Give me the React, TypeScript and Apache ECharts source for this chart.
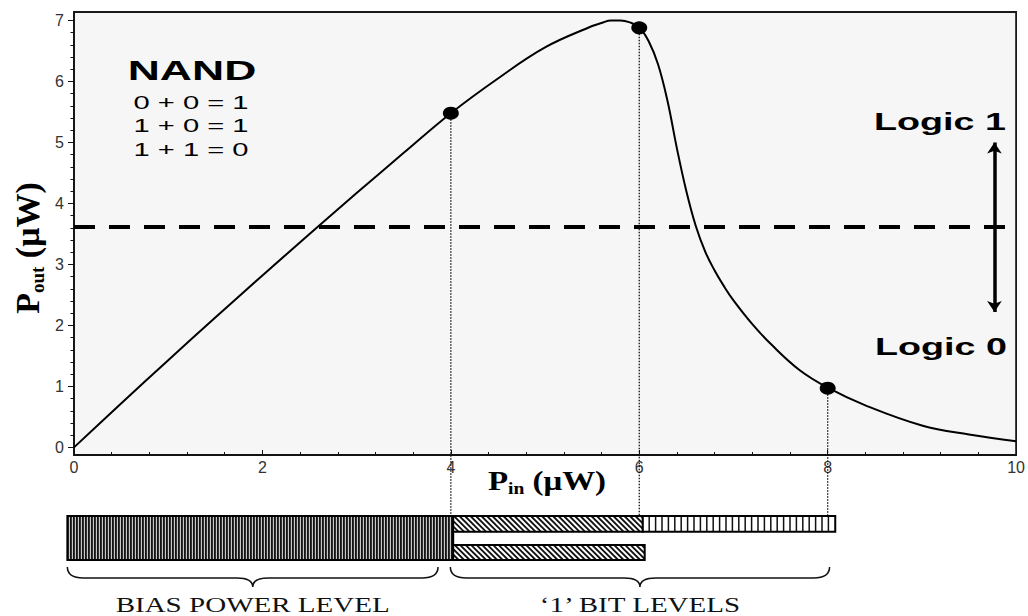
import React, { useEffect, useRef } from "react";
import * as echarts from "echarts";

// ---- data ----
const P_IN = [0, 0.5, 1, 1.5, 2, 2.5, 3, 3.5, 4, 4.5, 5, 5.5, 5.6, 5.7, 5.8, 5.9, 6.0, 6.1, 6.2, 6.3, 6.4, 6.5, 6.6, 6.7, 6.8, 6.9, 7.0, 7.2, 7.4, 7.7, 8, 8.4, 9, 9.5, 10];
const P_OUT = [0, 0.72, 1.43, 2.13, 2.82, 3.5, 4.17, 4.83, 5.48, 6.05, 6.56, 6.91, 6.96, 7.0, 7.0, 6.97, 6.89, 6.66, 6.28, 5.68, 4.9, 4.2, 3.63, 3.21, 2.9, 2.64, 2.41, 2.02, 1.69, 1.27, 0.98, 0.69, 0.36, 0.21, 0.1];
const MARK_X = [4, 6, 8];
const MARK_Y = [5.48, 6.88, 0.97];
const THRESHOLD = 3.62;
const ARROW_X = 9.77;
const ARROW_Y = [2.22, 5.0];
const Y_TICKS = [0, 1, 2, 3, 4, 5, 6, 7];
const Y_MIN = -0.125;
const Y_MAX = 7.14;
const X_MIN = 0;
const X_MAX = 10;
const X_INTERVAL = 2;

const BAR_START = [-0.07, 4, 6, 4];
const BAR_END = [4, 6, 8.03, 6.02];
const BAR_ROW = ["full", "top", "top", "bottom"];
const BAR_FILL = ["dense", "diag", "vstripe", "diag"];

const BRACE_START = [-0.07, 3.97];
const BRACE_END = [3.84, 7.97];
const BRACE_LABEL = ["BIAS POWER LEVEL", "\u20181\u2019 BIT LEVELS"];

const GATE_NAME = "NAND";
const GATE_LINES = ["0 + 0 = 1", "1 + 0 = 1", "1 + 1 = 0"];
const LOGIC_LABELS = ["Logic 1", "Logic 0"];

// ---- layout ----
const BAR_TOP = 516;
const SERIF = "'Liberation Serif', 'Times New Roman', serif";
const SANS = "'Liberation Sans', Arial, sans-serif";

function seg(x1: number, y1: number, x2: number, y2: number, stroke: string, w: number) {
  return { type: "line", shape: { x1, y1, x2, y2 }, style: { stroke, lineWidth: w } };
}

export default function App() {
  const ref = useRef<HTMLDivElement>(null);

  useEffect(() => {
    const chart = echarts.init(ref.current!, null, { renderer: "svg" });

    const curveData = P_IN.map((x, i) => [x, P_OUT[i]]);
    const markData = MARK_X.map((x, i) => [x, MARK_Y[i]]);
    const minorY: number[] = [];
    for (let k = 1; k < 36; k++) {
      if (k % 5 !== 0) minorY.push(+(k * 0.2).toFixed(1));
    }

    const option: any = {
      animation: false,
      backgroundColor: "#ffffff",
      grid: [
        { left: 74, right: 6, top: 12, bottom: 161, show: true, backgroundColor: "#f6f6f6", borderColor: "#1a1a1a", borderWidth: 1.8 },
        { left: 74, right: 6, top: BAR_TOP, height: 44, show: false },
      ],
      xAxis: [
        {
          gridIndex: 0, type: "value", min: X_MIN, max: X_MAX, interval: X_INTERVAL,
          axisLine: { show: true, onZero: false, lineStyle: { color: "#111", width: 1.5 } },
          axisTick: { show: true, inside: true, length: 5, lineStyle: { color: "#111", width: 1 } },
          minorTick: { show: true, splitNumber: 5, length: 3, lineStyle: { color: "#111", width: 1 } },
          axisLabel: { color: "#333", fontSize: 16, fontFamily: SANS, margin: 4 },
          splitLine: { show: false },
        },
        { gridIndex: 1, type: "value", min: X_MIN, max: X_MAX, show: false },
      ],
      yAxis: [
        {
          gridIndex: 0, type: "value", min: Y_MIN, max: Y_MAX,
          axisLine: { show: true, onZero: false, lineStyle: { color: "#111", width: 1.5 } },
          axisTick: { show: true, inside: false, length: 6, customValues: Y_TICKS, lineStyle: { color: "#111", width: 1 } },
          axisLabel: { customValues: Y_TICKS, color: "#333", fontSize: 16, fontFamily: SANS, margin: 10 },
          splitLine: { show: false },
        },
        {
          gridIndex: 0, type: "value", min: Y_MIN, max: Y_MAX, position: "left",
          axisLine: { show: false },
          axisTick: { show: true, inside: false, length: 3.5, customValues: minorY, lineStyle: { color: "#111", width: 1 } },
          axisLabel: { show: false },
          splitLine: { show: false },
        },
        { gridIndex: 1, type: "value", min: 0, max: 1, show: false },
      ],
      series: [
        {
          type: "line", xAxisIndex: 0, yAxisIndex: 0, data: curveData, smooth: 0.4,
          showSymbol: false, silent: true,
          lineStyle: { color: "#000", width: 2 },
          markLine: {
            silent: true, symbol: ["none", "none"], label: { show: false },
            lineStyle: { color: "#000", width: 4, type: [21, 14] },
            data: [{ yAxis: THRESHOLD }],
          },
          z: 3,
        },
        {
          type: "custom", xAxisIndex: 0, yAxisIndex: 0, data: markData, clip: false, silent: true,
          renderItem: (params: any, api: any) => {
            const p = api.coord([api.value(0), api.value(1)]);
            return {
              type: "line",
              shape: { x1: p[0], y1: p[1], x2: p[0], y2: BAR_TOP },
              style: { stroke: "#111", lineWidth: 1.3, lineDash: [1.5, 1.5] },
            };
          },
          z: 2,
        },
        {
          type: "scatter", xAxisIndex: 0, yAxisIndex: 0, data: markData, symbol: "circle",
          symbolSize: [16, 13], itemStyle: { color: "#000", opacity: 1 }, silent: true,
          markLine: {
            silent: true, symbol: ["arrow", "arrow"], symbolSize: [11, 11], label: { show: false },
            lineStyle: { color: "#000", width: 3.5, type: "solid", opacity: 1 },
            data: [[{ coord: [ARROW_X, ARROW_Y[0]] }, { coord: [ARROW_X, ARROW_Y[1]] }]],
          },
          z: 4,
        },
        {
          type: "custom", xAxisIndex: 1, yAxisIndex: 2, clip: false, silent: true,
          data: BAR_START.map((s, i) => [s, BAR_END[i]]),
          renderItem: (params: any, api: any) => {
            const i = params.dataIndex;
            const a = api.coord([BAR_START[i], 1]);
            const b = api.coord([BAR_END[i], 0]);
            const x0 = a[0], x1 = b[0];
            const top = a[1], bottom = b[1];
            const H = bottom - top;
            let y0 = top, y1 = bottom;
            if (BAR_ROW[i] === "top") y1 = top + H * 0.36;
            else if (BAR_ROW[i] === "bottom") y0 = bottom - H * 0.34;
            const kind = BAR_FILL[i];
            const children: any[] = [];
            children.push({ type: "rect", shape: { x: x0, y: y0, width: x1 - x0, height: y1 - y0 }, style: { fill: kind === "dense" ? "#141414" : "#ffffff" } });
            if (kind === "dense") {
              for (let x = x0 + 2; x < x1 - 0.5; x += 3) children.push(seg(x, y0, x, y1, "#e6e6e6", 1));
            } else if (kind === "vstripe") {
              for (let x = x0 + 6.4; x < x1 - 1; x += 6.4) children.push(seg(x, y0, x, y1, "#111", 1.5));
            } else {
              const h = y1 - y0;
              const step = 5.5;
              for (let k = -h; k < x1 - x0; k += step) {
                let sx = x0 + k, sy = y0, ex = x0 + k + h, ey = y1;
                if (sx < x0) { sy += x0 - sx; sx = x0; }
                if (ex > x1) { ey -= ex - x1; ex = x1; }
                if (ex - sx > 0.3) children.push(seg(sx, sy, ex, ey, "#111", 1.8));
              }
            }
            children.push({ type: "rect", shape: { x: x0, y: y0, width: x1 - x0, height: y1 - y0 }, style: { fill: "none", stroke: "#000", lineWidth: 2 } });
            return { type: "group", children };
          },
        },
        {
          type: "custom", xAxisIndex: 1, yAxisIndex: 2, clip: false, silent: true,
          data: BRACE_START.map((s, i) => [s, BRACE_END[i]]),
          renderItem: (params: any, api: any) => {
            const i = params.dataIndex;
            const a = api.coord([BRACE_START[i], 0]);
            const b = api.coord([BRACE_END[i], 0]);
            const x0 = a[0], x1 = b[0], base = a[1];
            const xc = (x0 + x1) / 2;
            const yT = base + 7, yM = base + 18, yB = base + 27, r = 16;
            const d = `M${x0} ${yT} Q${x0} ${yM} ${x0 + r} ${yM} L${xc - r} ${yM} Q${xc} ${yM} ${xc} ${yB} Q${xc} ${yM} ${xc + r} ${yM} L${x1 - r} ${yM} Q${x1} ${yM} ${x1} ${yT}`;
            return {
              type: "group",
              children: [
                { type: "path", shape: { pathData: d }, style: { fill: "none", stroke: "#111", lineWidth: 1.5 } },
                {
                  type: "text", x: xc, y: base + 45, scaleX: 1.32,
                  style: { text: BRACE_LABEL[i], fontSize: 22, fontFamily: SERIF, fill: "#111", align: "center", verticalAlign: "middle" },
                },
              ],
            };
          },
        },
      ],
      graphic: [
        {
          type: "text", x: 192, y: 70, scaleX: 1.59,
          style: { text: GATE_NAME, fontSize: 28, fontWeight: "bold", fontFamily: SANS, fill: "#000", align: "center", verticalAlign: "middle" },
        },
        ...GATE_LINES.map((t, i) => ({
          type: "text", x: 191, y: [103, 126, 150][i], scaleX: 1.62,
          style: { text: t, fontSize: 18, fontFamily: SANS, fill: "#000", align: "center", verticalAlign: "middle" },
        })),
        {
          type: "text", x: 940, y: 122, scaleX: 1.64,
          style: { text: LOGIC_LABELS[0], fontSize: 23, fontWeight: "bold", fontFamily: SANS, fill: "#000", align: "center", verticalAlign: "middle" },
        },
        {
          type: "text", x: 941, y: 347, scaleX: 1.64,
          style: { text: LOGIC_LABELS[1], fontSize: 23, fontWeight: "bold", fontFamily: SANS, fill: "#000", align: "center", verticalAlign: "middle" },
        },
        {
          type: "text", x: 27, y: 248, rotation: Math.PI / 2,
          style: {
            text: "{p|P}{s|out}{p| (\u03bcW)}",
            fontSize: 34, fontWeight: "bold", fontFamily: SERIF, fill: "#000", align: "center", verticalAlign: "middle",
            rich: {
              p: { fontSize: 34, fontWeight: "bold", fontFamily: SERIF, lineHeight: 40, fill: "#000" },
              s: { fontSize: 19, fontWeight: "bold", fontFamily: SERIF, lineHeight: 22, verticalAlign: "bottom", fill: "#000" },
            },
          },
        },
        {
          type: "text", x: 547, y: 481, scaleX: 1.22,
          style: {
            text: "{p|P}{s|in}{p| (\u03bcW)}",
            fontSize: 27, fontWeight: "bold", fontFamily: SERIF, fill: "#000", align: "center", verticalAlign: "middle",
            rich: {
              p: { fontSize: 27, fontWeight: "bold", fontFamily: SERIF, lineHeight: 32, fill: "#000" },
              s: { fontSize: 16, fontWeight: "bold", fontFamily: SERIF, lineHeight: 18, verticalAlign: "bottom", fill: "#000" },
            },
          },
        },
      ],
    };

    chart.setOption(option);
    return () => chart.dispose();
  }, []);

  return (
    <div
      ref={ref}
      style={{ position: "absolute", left: 0, top: 0, width: 1028, height: 616, background: "#fff" }}
    />
  );
}
